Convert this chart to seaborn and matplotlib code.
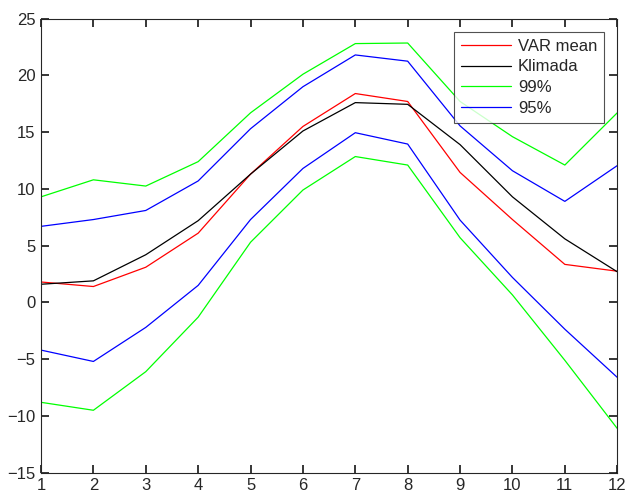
import pandas as pd
import seaborn as sns
import numpy as np
import matplotlib.pyplot as plt

months = list(range(1, 13))

var_mean = [1.8, 1.4, 3.1, 6.1, 11.3, 15.5, 18.4, 17.7, 11.45, 7.3, 3.35, 2.75]
klimada = [1.6, 1.9, 4.2, 7.2, 11.3, 15.1, 17.6, 17.45, 13.9, 9.3, 5.6, 2.7]
upper99 = [9.3, 10.8, 10.25, 12.4, 16.7, 20.1, 22.8, 22.85, 17.7, 14.6, 12.1, 16.7]
lower99 = [-8.8, -9.5, -6.1, -1.3, 5.3, 9.9, 12.85, 12.1, 5.7, 0.66, -5.1, -11.1]
upper95 = [6.7, 7.3, 8.1, 10.7, 15.3, 19.0, 21.8, 21.25, 15.55, 11.6, 8.9, 12.05]
lower95 = [-4.2, -5.2, -2.2, 1.5, 7.3, 11.8, 14.95, 13.95, 7.25, 2.2, -2.36, -6.6]

sns.set_style("ticks", {"xtick.direction": "in", "ytick.direction": "in"})
plt.rcParams['font.family'] = ['Liberation Sans', 'DejaVu Sans']

fig = plt.figure(figsize=(6.27, 4.99), dpi=100)
ax = fig.add_axes([0.0654, 0.0527, 0.919, 0.91])

lw = 0.9
sns.lineplot(x=months, y=var_mean, color='#ff0000', lw=lw, label='VAR mean', ax=ax)
sns.lineplot(x=months, y=klimada, color='black', lw=lw, label='Klimada', ax=ax)
sns.lineplot(x=months, y=upper99, color='#00ff00', lw=lw, label='99%', ax=ax)
sns.lineplot(x=months, y=lower99, color='#00ff00', lw=lw, ax=ax)
sns.lineplot(x=months, y=upper95, color='#0000ff', lw=lw, label='95%', ax=ax)
sns.lineplot(x=months, y=lower95, color='#0000ff', lw=lw, ax=ax)

ax.set_xlim(1, 12)
ax.set_ylim(-15, 25)
ax.set_xticks(months)
ax.set_yticks(np.arange(-15, 26, 5))
ax.tick_params(direction='in', bottom=True, left=True, top=True, right=True,
               length=6, width=1.1, color='black')
ax.tick_params(labelsize=12, labelcolor='#262626', pad=4)
for s in ax.spines.values():
    s.set_color('#262626')
    s.set_linewidth(0.8)

leg = ax.legend(loc='upper right', fontsize=12, frameon=True, fancybox=False,
                edgecolor='#262626', handlelength=3.0, handletextpad=0.42,
                labelspacing=0.35, borderpad=0.4, borderaxespad=0.8)
leg.get_frame().set_linewidth(0.8)

fig.savefig('out.png', dpi=100)
